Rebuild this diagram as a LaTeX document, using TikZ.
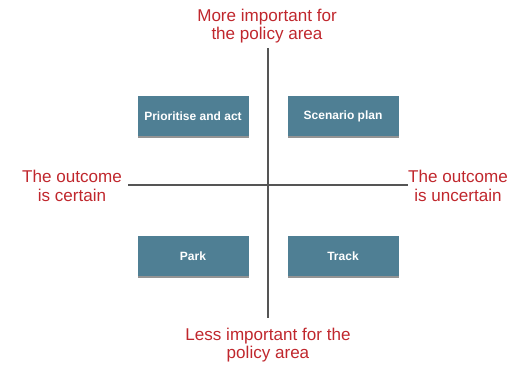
\documentclass[tikz,border=0pt]{standalone}
\usepackage{fontspec}
\setmainfont{Liberation Sans}
\usetikzlibrary{shadows}
\definecolor{boxblue}{HTML}{4F7F94}
\definecolor{labred}{HTML}{C0272D}
\definecolor{axisgray}{HTML}{555555}
\begin{document}
\begin{tikzpicture}[x=0.75pt,y=-0.75pt,
  quad/.style={fill=boxblue, minimum width=83.25pt, minimum height=30pt, inner sep=0pt,
    text=white, font=\fontsize{9}{10}\selectfont\bfseries,
    drop shadow={shadow xshift=0pt, shadow yshift=-1.5pt, opacity=0.6, fill=black!70}},
  lab/.style={text=labred, align=center, font=\fontsize{12.8}{13.8}\selectfont, inner sep=0pt},
  axis/.style={draw=axisgray, line width=1.5pt}]
\useasboundingbox (0,0) rectangle (522,365);
\coordinate (vt) at (268,48);
\coordinate (vb) at (268,318);
\coordinate (hl) at (128,185);
\coordinate (hr) at (408,185);
\draw[axis] (vt) -- (vb);
\draw[axis] (hl) -- (hr);
\node[quad] (pa) at (193,116) {Prioritise and act};
\node[quad] (sp) at (343,116) {Scenario plan};
\node[quad] (pk) at (193,256) {Park};
\node[quad] (tr) at (343,256) {Track};
\node[lab] (top) at (267,26) {More important for\\the policy area};
\node[lab] (bot) at (268,345) {Less important for the\\policy area};
\node[lab] (lft) at (72,186) {The outcome\\is certain};
\node[lab] (rgt) at (458,186) {The outcome\\is uncertain};
\end{tikzpicture}
\end{document}
